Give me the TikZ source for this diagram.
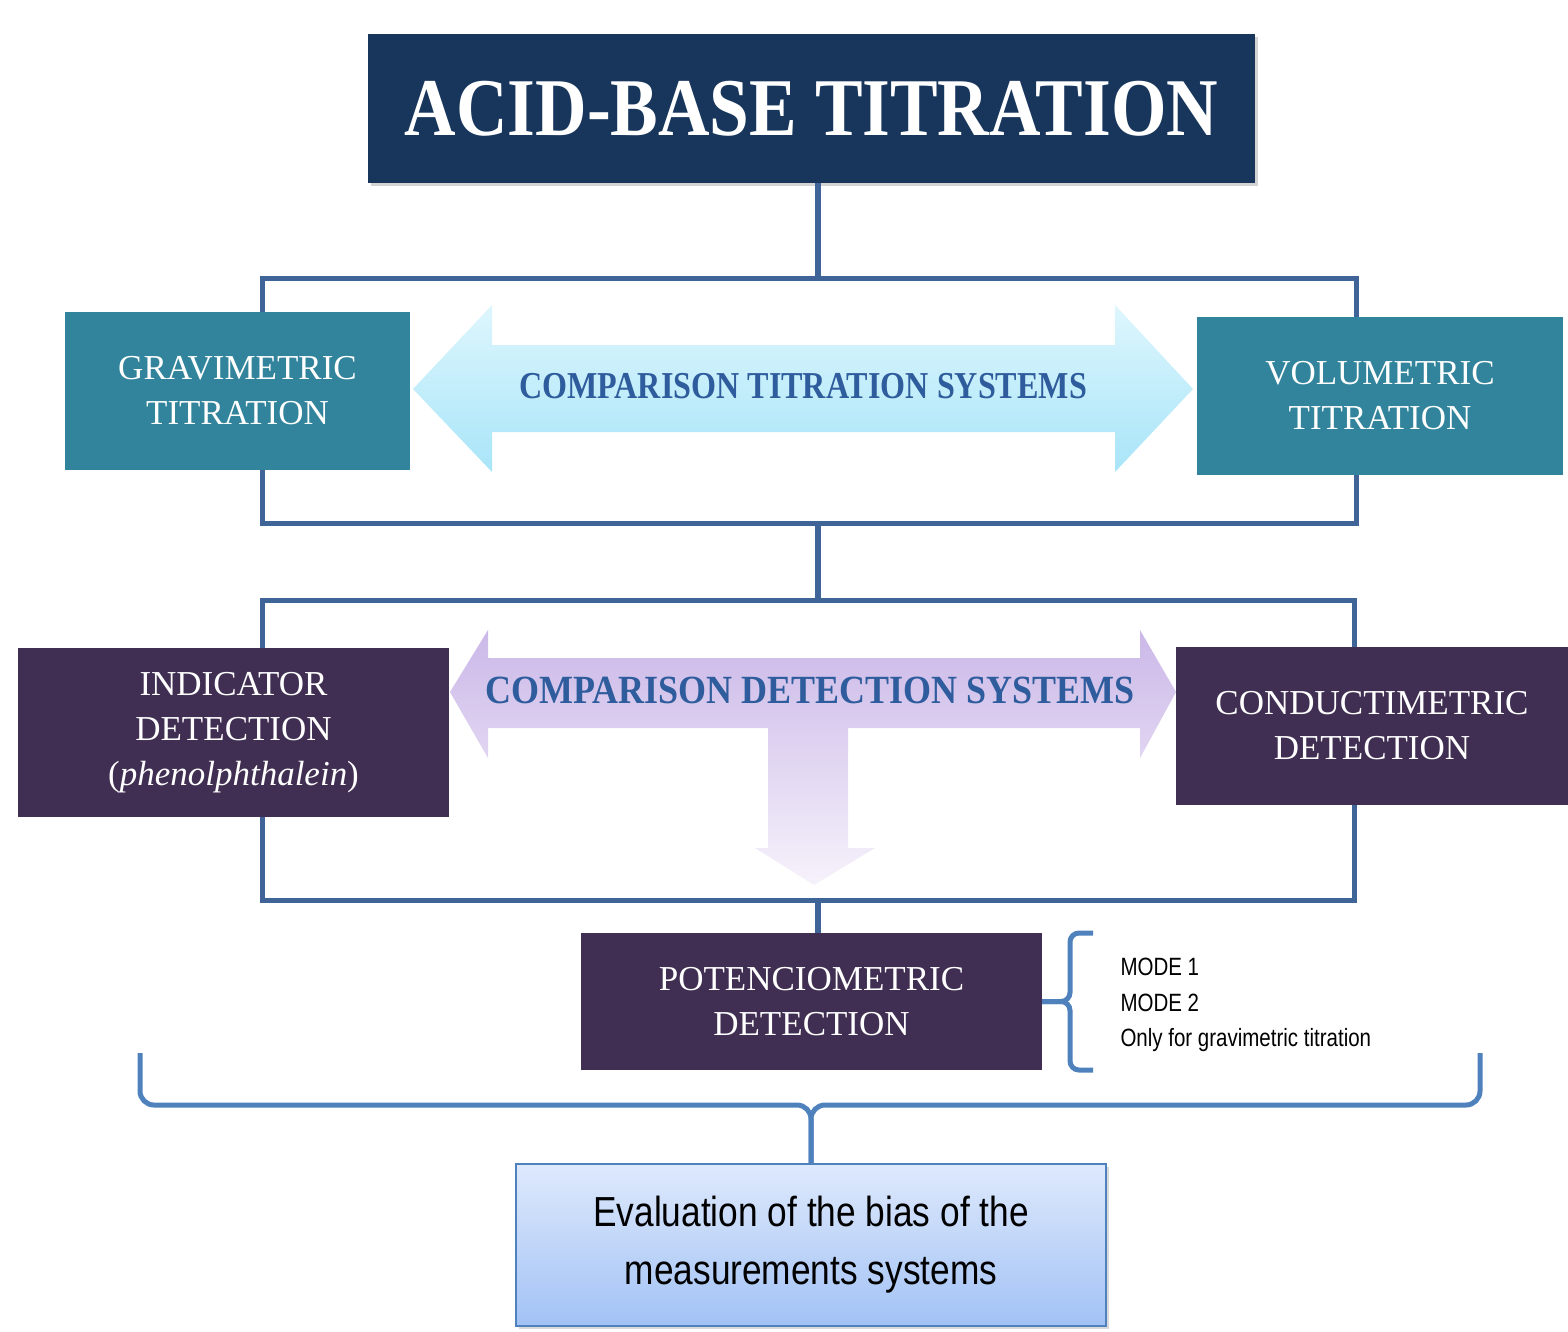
\documentclass[tikz,border=0pt]{standalone}
\usepackage{fontspec}
\usepackage{graphicx}
\setmainfont{Liberation Serif}
\newfontfamily\arialnarrow{Liberation Sans}
\usepackage{tikz}
\usetikzlibrary{shadows}
\definecolor{titlefill}{RGB}{24,54,92}
\definecolor{framecol}{RGB}{63,100,152}
\definecolor{tealbox}{RGB}{49,132,155}
\definecolor{plumbox}{RGB}{64,47,82}
\definecolor{cyantop}{RGB}{222,246,253}
\definecolor{cyanbot}{RGB}{168,229,248}
\definecolor{lavtop}{RGB}{203,184,232}
\definecolor{lavbot}{RGB}{246,242,251}
\definecolor{comptext}{RGB}{46,92,156}
\definecolor{evaltop}{RGB}{222,233,252}
\definecolor{evalbot}{RGB}{162,194,245}
\definecolor{bracecol}{RGB}{79,129,189}
\newcommand{\nar}[1]{\scalebox{0.82}[1]{#1}}

\begin{document}
\begin{tikzpicture}[x=1pt, y=-1pt,
  box/.style={inner sep=0pt, outer sep=0pt, align=center, text=white,
    font=\fontsize{35}{45}\selectfont},
  frame/.style={draw=framecol, line width=5pt, inner sep=0pt, outer sep=0pt},
  link/.style={draw=framecol, line width=5.5pt},
  brace/.style={draw=bracecol, line width=5pt, rounded corners=14pt},
  compare/.style={text=comptext, font=\bfseries}]
  \useasboundingbox (0,0) rectangle (1568,1331);

  \node[frame, minimum width=1094, minimum height=245] (frameA) at (809,400.5) {};
  \node[frame, minimum width=1092, minimum height=300] (frameB) at (808,750) {};

  \node[box, fill=titlefill, minimum width=887, minimum height=149,
    drop shadow={opacity=0.35, shadow xshift=3pt, shadow yshift=-3pt},
    font=\fontsize{82}{90}\selectfont\bfseries] (title) at (811.5,108.5)
    {\scalebox{0.87}[1]{ACID-BASE TITRATION}};

  \draw[link] ([xshift=6.5pt]title.south) -- ([xshift=6.5pt]title.south |- frameA.north);
  \draw[link] ([xshift=9pt]frameA.south) -- ([xshift=9pt]frameA.south |- frameB.north);

  \node[box, fill=tealbox, minimum width=345, minimum height=158] (grav) at (237.5,391)
    {GRAVIMETRIC\\TITRATION};
  \node[box, fill=tealbox, minimum width=366, minimum height=158] (vol) at (1380,396)
    {VOLUMETRIC\\TITRATION};

  \shade[top color=cyantop, bottom color=cyanbot]
    (413,389) -- (492,305) -- (492,345) -- (1115,345) -- (1115,305) -- (1193,389)
    -- (1115,472) -- (1115,432) -- (492,432) -- (492,472) -- cycle;
  \node[compare, font=\fontsize{38}{40}\selectfont\bfseries] (cmpA) at (803,386)
    {\scalebox{0.845}[1]{COMPARISON TITRATION SYSTEMS}};

  \node[box, fill=plumbox, minimum width=431, minimum height=169] (ind) at (233.5,732.5)
    {INDICATOR\\DETECTION\\(\textit{phenolphthalein})};
  \node[box, fill=plumbox, minimum width=392, minimum height=158] (cond) at (1372,726)
    {CONDUCTIMETRIC\\DETECTION};

  \shade[top color=lavtop, bottom color=lavbot]
    (450,692) -- (488,630) -- (488,658) -- (1140,658) -- (1140,630) -- (1176,692)
    -- (1140,758) -- (1140,728) -- (848,728) -- (848,848) -- (875,848) -- (814,885)
    -- (755,848) -- (768,848) -- (768,728) -- (488,728) -- (488,758) -- cycle;
  \node[compare, font=\fontsize{40}{42}\selectfont\bfseries] (cmpB) at (810,690)
    {\scalebox{0.9}[1]{COMPARISON DETECTION SYSTEMS}};

  \node[box, fill=plumbox, minimum width=461, minimum height=137] (pot) at (811.5,1001.5)
    {POTENCIOMETRIC\\DETECTION};
  \draw[link] ([xshift=6.5pt]pot.north |- frameB.south) -- ([xshift=6.5pt]pot.north);

  \draw[brace, rounded corners=9pt] (1093,933) -- (1070,933) -- (1070,1001.5) -- (pot.east);
  \draw[brace, rounded corners=9pt] (1093,1070) -- (1070,1070) -- (1070,1001.5) -- (pot.east);
  \node[anchor=west, align=left, font=\arialnarrow\fontsize{25}{35.5}\selectfont] (modes)
    at (1117,1005) {\nar{MODE 1}\\\nar{MODE 2}\\\nar{Only for gravimetric titration}};

  \node[box, draw=bracecol, line width=1.5pt, top color=evaltop, bottom color=evalbot,
    minimum width=590, minimum height=162, text=black,
    drop shadow={opacity=0.3, shadow xshift=3pt, shadow yshift=-3pt},
    font=\arialnarrow\fontsize{42}{58}\selectfont] (eval) at (811,1245)
    {\scalebox{0.84}[1]{Evaluation of the bias of the}\\\scalebox{0.84}[1]{measurements systems}};

  \coordinate (braceL) at (140,1053);
  \coordinate (braceR) at (1480,1053);
  \draw[brace] (braceL) -- (braceL |- 0,1105) -- (eval.north |- 0,1105) -- (eval.north);
  \draw[brace] (braceR) -- (braceR |- 0,1105) -- (eval.north |- 0,1105) -- (eval.north);
\end{tikzpicture}
\end{document}
